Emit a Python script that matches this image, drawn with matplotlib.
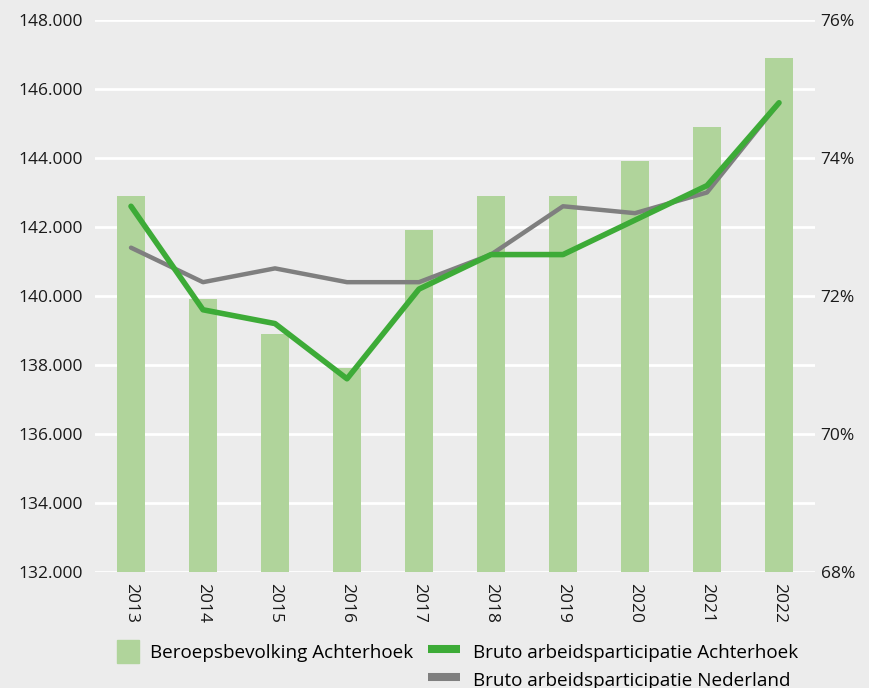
import numpy as np
import matplotlib
matplotlib.use("Agg")
import matplotlib.pyplot as plt
from matplotlib.ticker import FuncFormatter
from matplotlib.lines import Line2D
from matplotlib.patches import Patch

plt.rcParams['font.family'] = ['Open Sans', 'DejaVu Sans']

years = ['2013', '2014', '2015', '2016', '2017', '2018', '2019', '2020', '2021', '2022']
beroepsbevolking = [142900, 139900, 138900, 137900, 141900, 142900, 142900, 143900, 144900, 146900]
part_achterhoek = [73.3, 71.8, 71.6, 70.8, 72.1, 72.6, 72.6, 73.1, 73.6, 74.8]
part_nederland = [72.7, 72.2, 72.4, 72.2, 72.2, 72.6, 73.3, 73.2, 73.5, 74.8]

bg = '#ececec'
bar_color = '#b0d49b'
green = '#3dab37'
grey = '#7f7f7f'

fig = plt.figure(figsize=(8.7, 6.88), dpi=100, facecolor=bg)
ax = fig.add_axes([0.1092, 0.1686, 0.8276, 0.8024])
ax.set_facecolor(bg)
x = np.arange(len(years))

ax.bar(x, np.array(beroepsbevolking) - 132000, bottom=132000, width=0.4,
       color=bar_color, zorder=2)
ax.set_ylim(132000, 148000)
ax.set_yticks(np.arange(132000, 148001, 2000))
ax.yaxis.set_major_formatter(FuncFormatter(lambda v, p: f"{int(v):,}".replace(',', '.')))
ax.grid(axis='y', color='white', lw=2, zorder=0)
ax.set_axisbelow(True)
ax.set_xlim(-0.5, 9.5)
ax.set_xticks(x)
ax.set_xticklabels(years, rotation=-90)

ax2 = ax.twinx()
ax2.plot(x, part_nederland, color=grey, lw=3.2, solid_capstyle='round', zorder=3)
ax2.plot(x, part_achterhoek, color=green, lw=4, solid_capstyle='round', zorder=4)
ax2.set_ylim(68, 76)
ax2.set_yticks([68, 70, 72, 74, 76])
ax2.yaxis.set_major_formatter(FuncFormatter(lambda v, p: f"{int(v)}%"))

for a in (ax, ax2):
    for s in a.spines.values():
        s.set_visible(False)
    a.tick_params(length=0, labelsize=12.5, colors='#1a1a1a')
ax.tick_params(axis='y', pad=9)
ax.tick_params(axis='x', pad=8)
ax2.tick_params(axis='y', pad=4)

fs = 13.6
top = 1 - 640 / 688
fig.legend([Patch(color=bar_color)], ['Beroepsbevolking Achterhoek'],
           loc='upper left', bbox_to_anchor=(117 / 870, top),
           frameon=False, fontsize=fs, handlelength=1.16, handleheight=1.48,
           handletextpad=0.58, borderpad=0, borderaxespad=0)
fig.legend([Line2D([], [], color=green, lw=5.8, solid_capstyle='butt'),
            Line2D([], [], color=grey, lw=5.8, solid_capstyle='butt')],
           ['Bruto arbeidsparticipatie Achterhoek', 'Bruto arbeidsparticipatie Nederland'],
           loc='upper left', bbox_to_anchor=(428 / 870, top),
           frameon=False, fontsize=fs, handlelength=1.7, handleheight=1.48,
           handletextpad=0.69, labelspacing=0.3, borderpad=0, borderaxespad=0)

fig.savefig('out.png', dpi=100, facecolor=bg)
